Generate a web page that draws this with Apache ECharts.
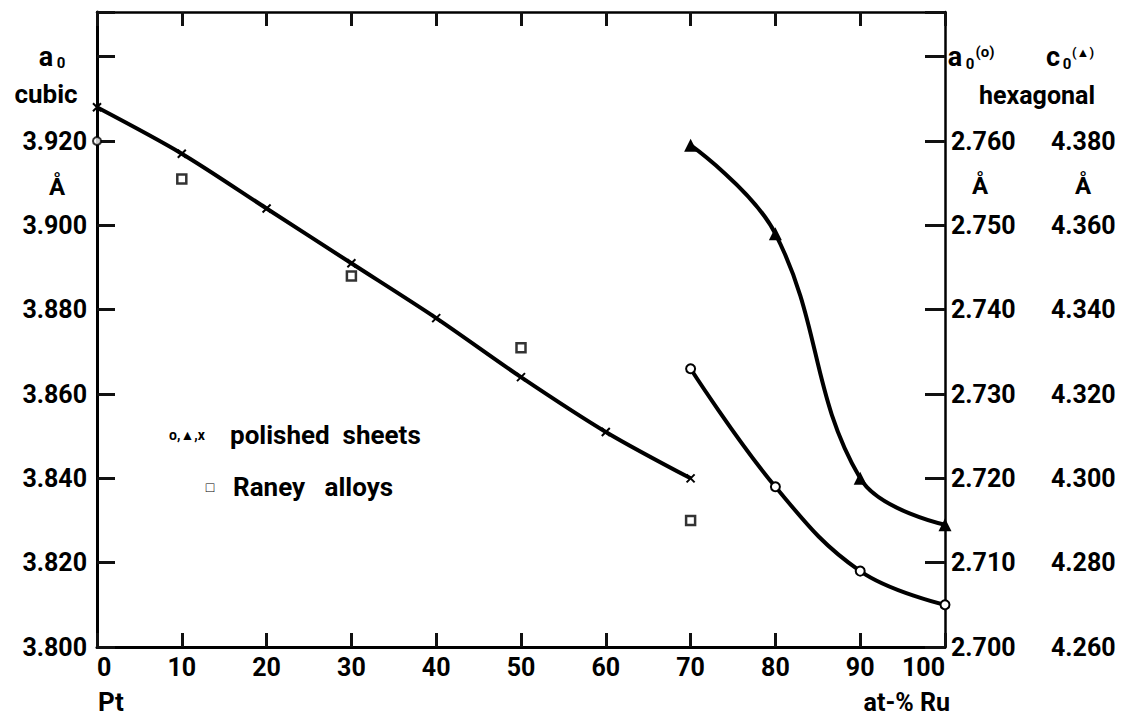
<!DOCTYPE html>
<html>
<head>
<meta charset="utf-8">
<title>Pt-Ru lattice parameters</title>
<script src="https://cdn.jsdelivr.net/npm/echarts@6/dist/echarts.min.js"></script>
<style>
  html, body { margin: 0; padding: 0; background: #fff; }
  #main { width: 1126px; height: 717px; }
</style>
</head>
<body>
<div id="main"></div>
<script>
// at-% Ru for the cubic (fcc) side
var cubicRu = [0, 10, 20, 30, 40, 50, 60, 70];
var cubicA0 = [3.928, 3.917, 3.904, 3.891, 3.878, 3.864, 3.851, 3.840];
// single open circle on the left axis
var cubicCircleRu = [0];
var cubicCircleA0 = [3.920];
// Raney alloys (squares)
var raneyRu = [10, 30, 50, 70];
var raneyA0 = [3.911, 3.888, 3.871, 3.830];
// hexagonal side
var hexRu = [70, 80, 90, 100];
var hexA0 = [2.733, 2.719, 2.709, 2.705];
var hexC0 = [4.379, 4.358, 4.300, 4.289];

var leftTicks = { min: 3.800, max: 3.9506, step: 0.02, lastLabel: 3.920 };
var a0Ticks = { min: 2.700, max: 2.7753, step: 0.01, lastLabel: 2.760 };
var c0Ticks = { min: 4.260, max: 4.4106, step: 0.02, lastLabel: 4.380 };

var FONT = 'Roboto';
var black = '#000';
var tickColor = '#111';

function pairs(xs, ys) {
  var out = [];
  for (var i = 0; i < xs.length; i++) out.push([xs[i], ys[i]]);
  return out;
}

function fmt(limit) {
  return function (v) {
    if (v > limit + 1e-6) return '';
    return v.toFixed(3);
  };
}

function txt(x, y, s, size, align, weight) {
  return {
    type: 'text', x: x, y: y, silent: true,
    style: {
      text: s, fill: black,
      font: (weight || 'bold') + ' ' + size + 'px ' + FONT,
      textAlign: align || 'center', textVerticalAlign: 'middle'
    }
  };
}

function line(w) {
  return { show: true, onZero: false, lineStyle: { color: black, width: w } };
}
function tick(len) {
  return { show: true, inside: true, length: len, lineStyle: { color: tickColor, width: 3 } };
}

var axisLabelStyle = { color: black, fontFamily: FONT, fontWeight: 'bold', fontSize: 25 };

var myChart = echarts.init(document.getElementById('main'), null, { renderer: 'svg' });
var option = {
  backgroundColor: '#fff',
  animation: false,
  grid: { left: 97, right: 181, top: 12, bottom: 70, outerBoundsMode: 'none' },
  xAxis: [
    {
      type: 'value', min: 0, max: 100, interval: 10, position: 'bottom',
      axisLine: line(3),
      axisTick: tick(14),
      axisLabel: Object.assign({ margin: 8, alignMinLabel: 'left', alignMaxLabel: 'right' }, axisLabelStyle),
      splitLine: { show: false }
    },
    {
      type: 'value', min: 0, max: 100, interval: 10, position: 'top',
      axisLine: line(2.5),
      axisTick: tick(14),
      axisLabel: { show: false },
      splitLine: { show: false }
    }
  ],
  yAxis: [
    {
      type: 'value', position: 'left',
      min: leftTicks.min, max: leftTicks.max, interval: leftTicks.step,
      axisLine: line(3),
      axisTick: tick(18),
      axisLabel: Object.assign({ margin: 10, formatter: fmt(leftTicks.lastLabel) }, axisLabelStyle),
      splitLine: { show: false }
    },
    {
      type: 'value', position: 'right',
      min: a0Ticks.min, max: a0Ticks.max, interval: a0Ticks.step,
      axisLine: line(2.5),
      axisTick: tick(20),
      axisLabel: Object.assign({ margin: 6, formatter: fmt(a0Ticks.lastLabel) }, axisLabelStyle),
      splitLine: { show: false }
    },
    {
      type: 'value', position: 'right', offset: 100,
      min: c0Ticks.min, max: c0Ticks.max, interval: c0Ticks.step,
      axisLine: { show: false, onZero: false },
      axisTick: { show: false },
      axisLabel: Object.assign({ margin: 6, formatter: fmt(c0Ticks.lastLabel) }, axisLabelStyle),
      splitLine: { show: false }
    }
  ],
  series: [
    {
      name: 'cubic', type: 'line', xAxisIndex: 0, yAxisIndex: 0,
      data: pairs(cubicRu, cubicA0), smooth: 0.3, clip: false,
      symbol: 'path://M0,0L10,10M10,0L0,10', symbolSize: 8,
      itemStyle: { color: black, borderColor: black, borderWidth: 2 },
      lineStyle: { color: black, width: 4 }
    },
    {
      name: 'cubic circle', type: 'scatter', yAxisIndex: 0,
      data: pairs(cubicCircleRu, cubicCircleA0), symbol: 'circle', symbolSize: 8, clip: false,
      itemStyle: { color: '#fff', borderColor: black, borderWidth: 2 }
    },
    {
      name: 'Raney alloys', type: 'scatter', yAxisIndex: 0,
      data: pairs(raneyRu, raneyA0), symbol: 'rect', symbolSize: 9,
      itemStyle: { color: '#fff', borderColor: black, borderWidth: 2.5 }
    },
    {
      name: 'a0 hex', type: 'line', yAxisIndex: 1,
      data: pairs(hexRu, hexA0), smooth: 0.4, clip: false,
      symbol: 'circle', symbolSize: 9,
      itemStyle: { color: '#fff', borderColor: black, borderWidth: 2 },
      lineStyle: { color: black, width: 4 }
    },
    {
      name: 'c0 hex', type: 'line', yAxisIndex: 2,
      data: pairs(hexRu, hexC0), smooth: 0.4, clip: false,
      symbol: 'triangle', symbolSize: 13,
      itemStyle: { color: black },
      lineStyle: { color: black, width: 4 }
    }
  ],
  graphic: [
    // left axis name
    txt(46, 57, 'a', 27),
    txt(61, 63, '0', 15),
    txt(46, 94, 'cubic', 26),
    txt(57, 187, 'Å', 24),
    // right axis names
    txt(955, 57, 'a', 27),
    txt(970, 64, '0', 15),
    txt(985, 52, '(o)', 15),
    txt(1053, 57, 'c', 27),
    txt(1067, 64, '0', 15),
    txt(1083, 52, '(▲)', 13),
    txt(1037, 95, 'hexagonal', 25),
    txt(980, 186, 'Å', 24),
    txt(1083, 186, 'Å', 24),
    // x axis ends
    txt(98, 702, 'Pt', 26, 'left'),
    txt(950, 702, 'at-% Ru', 25, 'right'),
    // key
    txt(187, 435, 'o,▲,x', 14),
    txt(230, 435, 'polished  sheets', 26, 'left'),
    txt(210, 487, '□', 14),
    txt(233, 487, 'Raney   alloys', 26, 'left')
  ]
};
if (option && typeof option === 'object') {
  myChart.setOption(option);
}
</script>
</body>
</html>
